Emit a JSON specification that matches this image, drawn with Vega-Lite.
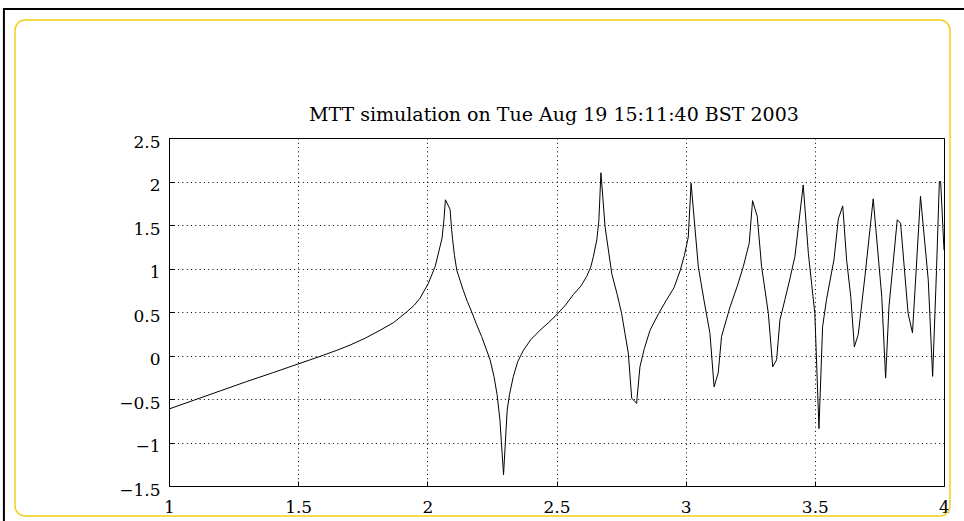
{
  "$schema": "https://vega.github.io/schema/vega-lite/v6.json",
  "width": 775,
  "height": 348,
  "autosize": "none",
  "padding": {"left": 169, "top": 138, "right": 20, "bottom": 35},
  "background": "white",
  "config": {
    "view": {"stroke": "black", "strokeWidth": 1},
    "axis": {
      "labelFont": "DejaVu Serif",
      "labelFontSize": 17,
      "labelColor": "black",
      "domain": false,
      "grid": true,
      "gridColor": "black",
      "gridOpacity": 1,
      "gridWidth": 1,
      "gridDash": [1, 3.3],
      "ticks": true,
      "tickColor": "black",
      "tickSize": -5,
      "title": null
    }
  },
  "datasets": {
    "series": [
      {"x": 1.0, "y": -0.615}, {"x": 1.1, "y": -0.51}, {"x": 1.2, "y": -0.405}, {"x": 1.3, "y": -0.3},
      {"x": 1.4, "y": -0.2}, {"x": 1.468, "y": -0.13}, {"x": 1.585, "y": -0.01}, {"x": 1.65, "y": 0.06},
      {"x": 1.701, "y": 0.12}, {"x": 1.76, "y": 0.2}, {"x": 1.817, "y": 0.29}, {"x": 1.87, "y": 0.38},
      {"x": 1.92, "y": 0.5}, {"x": 1.95, "y": 0.58}, {"x": 1.972, "y": 0.66}, {"x": 2.004, "y": 0.83},
      {"x": 2.03, "y": 1.02}, {"x": 2.049, "y": 1.25}, {"x": 2.057, "y": 1.35}, {"x": 2.064, "y": 1.55},
      {"x": 2.07, "y": 1.79}, {"x": 2.088, "y": 1.68}, {"x": 2.094, "y": 1.45}, {"x": 2.098, "y": 1.33},
      {"x": 2.105, "y": 1.15}, {"x": 2.114, "y": 0.98}, {"x": 2.139, "y": 0.75}, {"x": 2.155, "y": 0.62},
      {"x": 2.172, "y": 0.5}, {"x": 2.19, "y": 0.36}, {"x": 2.21, "y": 0.22}, {"x": 2.243, "y": -0.05},
      {"x": 2.258, "y": -0.24}, {"x": 2.27, "y": -0.45}, {"x": 2.281, "y": -0.74}, {"x": 2.295, "y": -1.37},
      {"x": 2.309, "y": -0.63}, {"x": 2.318, "y": -0.45}, {"x": 2.333, "y": -0.24}, {"x": 2.35, "y": -0.07},
      {"x": 2.372, "y": 0.06}, {"x": 2.4, "y": 0.18}, {"x": 2.436, "y": 0.29}, {"x": 2.47, "y": 0.38},
      {"x": 2.501, "y": 0.47}, {"x": 2.535, "y": 0.58}, {"x": 2.565, "y": 0.7}, {"x": 2.595, "y": 0.8},
      {"x": 2.617, "y": 0.91}, {"x": 2.633, "y": 1.02}, {"x": 2.643, "y": 1.14}, {"x": 2.656, "y": 1.33},
      {"x": 2.664, "y": 1.55}, {"x": 2.672, "y": 2.1}, {"x": 2.688, "y": 1.48}, {"x": 2.714, "y": 0.94},
      {"x": 2.735, "y": 0.7}, {"x": 2.752, "y": 0.485}, {"x": 2.778, "y": 0.025}, {"x": 2.791, "y": -0.49},
      {"x": 2.81, "y": -0.55}, {"x": 2.823, "y": -0.13}, {"x": 2.84, "y": 0.08}, {"x": 2.862, "y": 0.29},
      {"x": 2.895, "y": 0.48}, {"x": 2.926, "y": 0.64}, {"x": 2.955, "y": 0.78}, {"x": 2.978, "y": 0.97},
      {"x": 2.995, "y": 1.15}, {"x": 3.01, "y": 1.36}, {"x": 3.021, "y": 1.98}, {"x": 3.049, "y": 1.02},
      {"x": 3.07, "y": 0.65}, {"x": 3.094, "y": 0.255}, {"x": 3.11, "y": -0.36}, {"x": 3.126, "y": -0.2},
      {"x": 3.139, "y": 0.22}, {"x": 3.172, "y": 0.56}, {"x": 3.2, "y": 0.8}, {"x": 3.223, "y": 1.02},
      {"x": 3.246, "y": 1.29}, {"x": 3.259, "y": 1.78}, {"x": 3.277, "y": 1.6}, {"x": 3.294, "y": 1.02},
      {"x": 3.32, "y": 0.485}, {"x": 3.337, "y": -0.13}, {"x": 3.352, "y": -0.05}, {"x": 3.365, "y": 0.41},
      {"x": 3.384, "y": 0.64}, {"x": 3.405, "y": 0.9}, {"x": 3.423, "y": 1.14}, {"x": 3.455, "y": 1.96},
      {"x": 3.475, "y": 1.17}, {"x": 3.5, "y": 0.485}, {"x": 3.516, "y": -0.84}, {"x": 3.53, "y": 0.33},
      {"x": 3.545, "y": 0.64}, {"x": 3.574, "y": 1.1}, {"x": 3.591, "y": 1.57}, {"x": 3.608, "y": 1.72},
      {"x": 3.623, "y": 1.1}, {"x": 3.639, "y": 0.68}, {"x": 3.653, "y": 0.1}, {"x": 3.668, "y": 0.24},
      {"x": 3.694, "y": 0.91}, {"x": 3.726, "y": 1.8}, {"x": 3.759, "y": 0.68}, {"x": 3.774, "y": -0.26},
      {"x": 3.787, "y": 0.56}, {"x": 3.819, "y": 1.56}, {"x": 3.832, "y": 1.52}, {"x": 3.861, "y": 0.485},
      {"x": 3.878, "y": 0.26}, {"x": 3.909, "y": 1.83}, {"x": 3.939, "y": 0.87}, {"x": 3.956, "y": -0.24},
      {"x": 3.971, "y": 0.98}, {"x": 3.982, "y": 2.0}, {"x": 3.987, "y": 2.0}, {"x": 4.0, "y": 1.21}
    ]
  },
  "layer": [
    {
      "data": {"name": "series"},
      "mark": {"type": "line", "color": "black", "strokeWidth": 1, "clip": true},
      "encoding": {
        "x": {
          "field": "x", "type": "quantitative",
          "scale": {"domain": [1, 4], "nice": false, "zero": false},
          "axis": {"values": [1, 1.5, 2, 2.5, 3, 3.5, 4], "format": "~g", "labelPadding": 18, "labelFlush": false, "labelFont": "DejaVu Serif", "labelFontSize": 17}
        },
        "y": {
          "field": "y", "type": "quantitative",
          "scale": {"domain": [-1.5, 2.5], "nice": false, "zero": false},
          "axis": {"values": [-1.5, -1, -0.5, 0, 0.5, 1, 1.5, 2, 2.5], "format": "~g", "labelPadding": 14, "labelOffset": 4, "labelFont": "DejaVu Serif", "labelFontSize": 17}
        }
      }
    },
    {
      "data": {"values": [{}]},
      "mark": {
        "type": "text",
        "text": "MTT simulation on Tue Aug 19 15:11:40 BST 2003",
        "font": "DejaVu Serif",
        "fontSize": 19,
        "color": "black",
        "align": "center",
        "baseline": "alphabetic",
        "clip": false
      },
      "encoding": {
        "x": {"datum": 2.49, "type": "quantitative"},
        "y": {"datum": 2.695, "type": "quantitative"}
      }
    },
    {
      "data": {"values": [{}]},
      "mark": {"type": "rect", "fill": null, "filled": false, "stroke": "#f2cf1a", "strokeWidth": 1.5, "cornerRadius": 10, "clip": false},
      "encoding": {
        "x": {"datum": 0.404, "type": "quantitative"},
        "x2": {"datum": 4.023},
        "y": {"datum": 3.856, "type": "quantitative"},
        "y2": {"datum": -1.845}
      }
    },
    {
      "data": {"values": [{}]},
      "mark": {"type": "rect", "fill": null, "filled": false, "stroke": "black", "strokeWidth": 2, "clip": false},
      "encoding": {
        "x": {"datum": 0.361, "type": "quantitative"},
        "x2": {"datum": 4.12},
        "y": {"datum": 3.983, "type": "quantitative"},
        "y2": {"datum": -2.006}
      }
    }
  ]
}
